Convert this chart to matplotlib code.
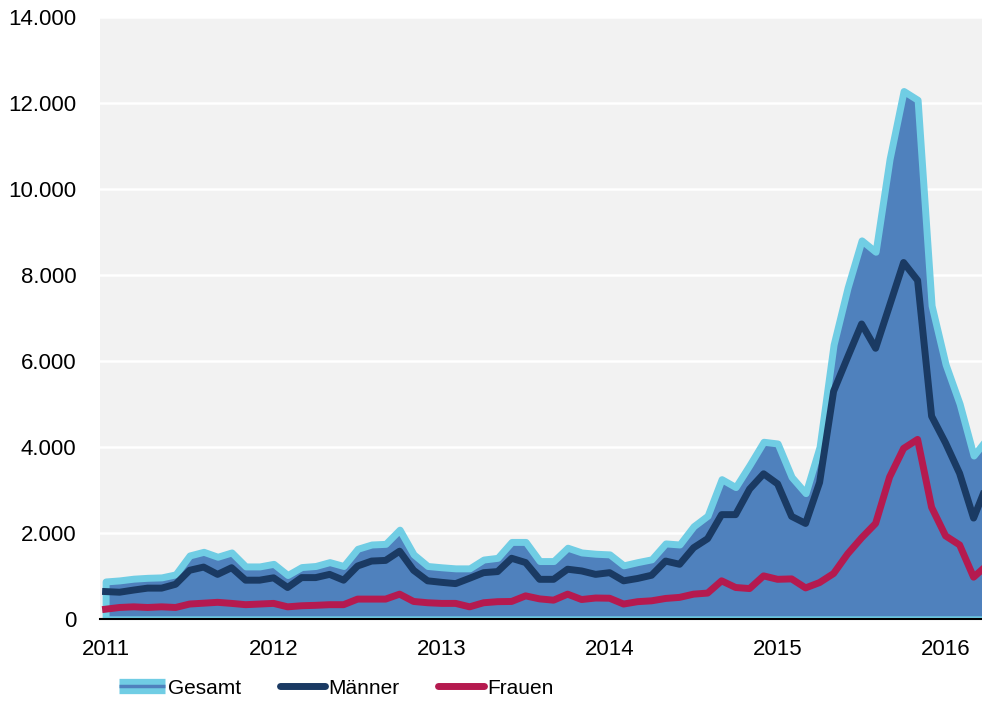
import matplotlib
matplotlib.use('Agg')
import matplotlib.pyplot as plt
import numpy as np
from matplotlib.lines import Line2D

plt.rcParams['font.family'] = ['Liberation Sans', 'DejaVu Sans']

# monthly values, Jan 2011 .. Apr 2016
gesamt = [880, 905, 945, 965, 975, 1045, 1485, 1570, 1455, 1555, 1230, 1230,
          1290, 1030, 1215, 1240, 1330, 1240, 1640, 1740, 1755, 2085, 1510, 1240,
          1210, 1185, 1185, 1390, 1430, 1800, 1800, 1355, 1355, 1665, 1555, 1525,
          1510, 1255, 1330, 1395, 1765, 1740, 2165, 2410, 3260, 3075, 3590, 4130,
          4090, 3310, 2935, 4015, 6390, 7715, 8815, 8550, 10710, 12290, 12085, 7300,
          5930, 5015, 3810, 4220]
maenner = [645, 630, 680, 725, 725, 815, 1140, 1215, 1045, 1200, 910, 910,
           965, 740, 970, 970, 1045, 910, 1240, 1355, 1370, 1585, 1140, 895,
           860, 830, 955, 1085, 1110, 1420, 1320, 930, 930, 1165, 1125, 1045,
           1085, 895, 950, 1025, 1355, 1280, 1665, 1875, 2435, 2435, 3030, 3385,
           3150, 2395, 2230, 3185, 5305, 6095, 6870, 6305, 7300, 8300, 7885, 4725,
           4100, 3395, 2355, 3170]
frauen = [235, 275, 290, 275, 290, 275, 355, 375, 395, 370, 340, 355,
          370, 290, 315, 325, 340, 340, 470, 470, 470, 585, 415, 385,
          370, 370, 290, 385, 410, 415, 545, 475, 445, 585, 460, 495,
          490, 355, 410, 430, 485, 510, 585, 610, 895, 740, 715, 1010,
          930, 940, 730, 855, 1065, 1520, 1895, 2230, 3310, 3975, 4185, 2605,
          1940, 1730, 980, 1270]
years = ['2011', '2012', '2013', '2014', '2015', '2016']
yticks = [0, 2000, 4000, 6000, 8000, 10000, 12000, 14000]

c_light = '#70cde4'
c_fill = '#4f81bd'
c_men = '#1a3a63'
c_women = '#b51a4f'

x = np.arange(len(gesamt))

fig = plt.figure(figsize=(9.82, 7.01), dpi=100)
ax = fig.add_axes([100 / 982, (701 - 619.3) / 701, 882 / 982, (619.3 - 17.5) / 701])
ax.set_facecolor('#f2f2f2')

ax.fill_between(x, gesamt, 0, facecolor=c_fill, edgecolor=c_light, linewidth=5,
                joinstyle='round', zorder=2)
ax.plot(x, maenner, color=c_men, lw=5, solid_joinstyle='round', zorder=3)
ax.plot(x, frauen, color=c_women, lw=5, solid_joinstyle='round', zorder=3)

ax.set_xlim(-0.4, 62.6)
ax.set_ylim(0, 14000)
ax.set_yticks(yticks)
ax.set_yticklabels([f'{v:,}'.replace(',', '.') for v in yticks])
ax.set_xticks(np.arange(len(years)) * 12)
ax.set_xticklabels(years)
ax.yaxis.grid(True, color='white', linewidth=1.8, zorder=1)
ax.set_axisbelow(True)
ax.tick_params(axis='y', length=0, pad=17, labelsize=16)
ax.tick_params(axis='x', length=0, pad=14, labelsize=16)

for side in ['left', 'right', 'top']:
    ax.spines[side].set_visible(False)
ax.spines['bottom'].set_color('black')
ax.spines['bottom'].set_linewidth(1.5)
ax.spines['bottom'].set_zorder(4)

h_ges = (Line2D([], [], color=c_light, lw=11, solid_capstyle='butt'),
         Line2D([], [], color=c_fill, lw=2.5, solid_capstyle='butt'))
h_men = Line2D([], [], color=c_men, lw=5, solid_capstyle='round')
h_wom = Line2D([], [], color=c_women, lw=5, solid_capstyle='round')
fig.legend([h_ges, h_men, h_wom], ['Gesamt', 'Männer', 'Frauen'],
           loc='center left', bbox_to_anchor=(119 / 982, 1 - 688 / 701),
           ncol=3, frameon=False, fontsize=15, handlelength=2.2,
           handletextpad=0.15, columnspacing=1.85, borderpad=0, borderaxespad=0)

fig.savefig('out.png', dpi=100)
